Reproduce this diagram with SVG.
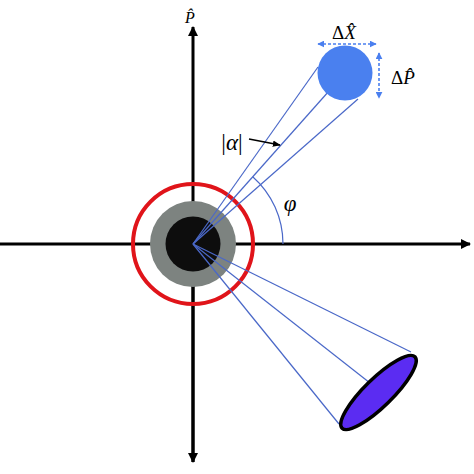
<svg xmlns="http://www.w3.org/2000/svg" width="474" height="474" viewBox="0 0 474 474">
<style>
.ax{stroke:#000;stroke-width:3;fill:none}
.ray{stroke:#4a68c8;stroke-width:1.2;fill:none}
.dash{stroke:#4a7fef;stroke-width:1.6;stroke-dasharray:3 2;fill:none}
.lbl{font-family:"Liberation Serif","DejaVu Serif",serif;fill:#000}
</style>
<defs>
<marker id="ah" viewBox="0 0 10 10" refX="9" refY="5" markerWidth="10" markerHeight="10" markerUnits="userSpaceOnUse" orient="auto">
<path d="M0,0 L10,5 L0,10 Z" fill="#000"/>
</marker>
<marker id="sh" viewBox="0 0 10 10" refX="9" refY="5" markerWidth="8" markerHeight="8" markerUnits="userSpaceOnUse" orient="auto">
<path d="M0,1 L10,5 L0,9 Z" fill="#000"/>
</marker>
<marker id="bh" viewBox="0 0 10 10" refX="9" refY="5" markerWidth="7" markerHeight="7" markerUnits="userSpaceOnUse" orient="auto-start-reverse">
<path d="M0,0 L10,5 L0,10 Z" fill="#4a7fef"/>
</marker>
</defs>
<g id="axes">
<line class="ax" x1="0" y1="244" x2="470" y2="244" marker-end="url(#ah)"/>
<line class="ax" x1="193" y1="462" x2="193" y2="27" marker-end="url(#ah)"/>
<line class="ax" x1="193" y1="244" x2="193" y2="462" marker-end="url(#ah)"/>
</g>
<g id="vacuum">
<circle cx="193" cy="244" r="43" fill="#7d8380"/>
<circle cx="193" cy="244" r="27.5" fill="#0d0d0d"/>
<circle cx="193" cy="244" r="60" fill="none" stroke="#e0141a" stroke-width="4"/>
</g>
<g id="connectors">
<line class="ray" x1="193" y1="244" x2="318" y2="67"/>
<line class="ray" x1="193" y1="244" x2="345" y2="73"/>
<line class="ray" x1="193" y1="244" x2="358" y2="99"/>
<line class="ray" x1="193" y1="244" x2="411" y2="352"/>
<line class="ray" x1="193" y1="244" x2="370" y2="383"/>
<line class="ray" x1="193" y1="244" x2="339" y2="424"/>
<path class="ray" d="M283,244 A90,90 0 0 0 252.7,176.7"/>
<line x1="249" y1="139" x2="280" y2="145" stroke="#000" stroke-width="1.6" marker-end="url(#sh)"/>
</g>
<g id="coherent">
<circle cx="345" cy="73" r="27.5" fill="#4a80ef"/>
<line class="dash" x1="318" y1="44" x2="376" y2="44" marker-start="url(#bh)" marker-end="url(#bh)"/>
<line class="dash" x1="379" y1="53" x2="379" y2="98" marker-start="url(#bh)" marker-end="url(#bh)"/>
</g>
<g id="squeezed">
<ellipse cx="378.5" cy="392.5" rx="51" ry="14" transform="rotate(-44.4 378.5 392.5)" fill="#5b2cf2" stroke="#000" stroke-width="3.5"/>
</g>
<g id="labels">
<text class="lbl" x="190" y="23" font-size="16" font-style="italic" text-anchor="middle">P̂</text>
<text class="lbl" x="344" y="39" font-size="19" text-anchor="middle">Δ<tspan font-style="italic">X̂</tspan></text>
<text class="lbl" x="403" y="84" font-size="19" text-anchor="middle">Δ<tspan font-style="italic">P̂</tspan></text>
<text class="lbl" x="232" y="150" font-size="23" text-anchor="middle">|<tspan font-style="italic">α</tspan>|</text>
<text class="lbl" x="290" y="211" font-size="23" font-style="italic" text-anchor="middle">φ</text>
</g>
</svg>
